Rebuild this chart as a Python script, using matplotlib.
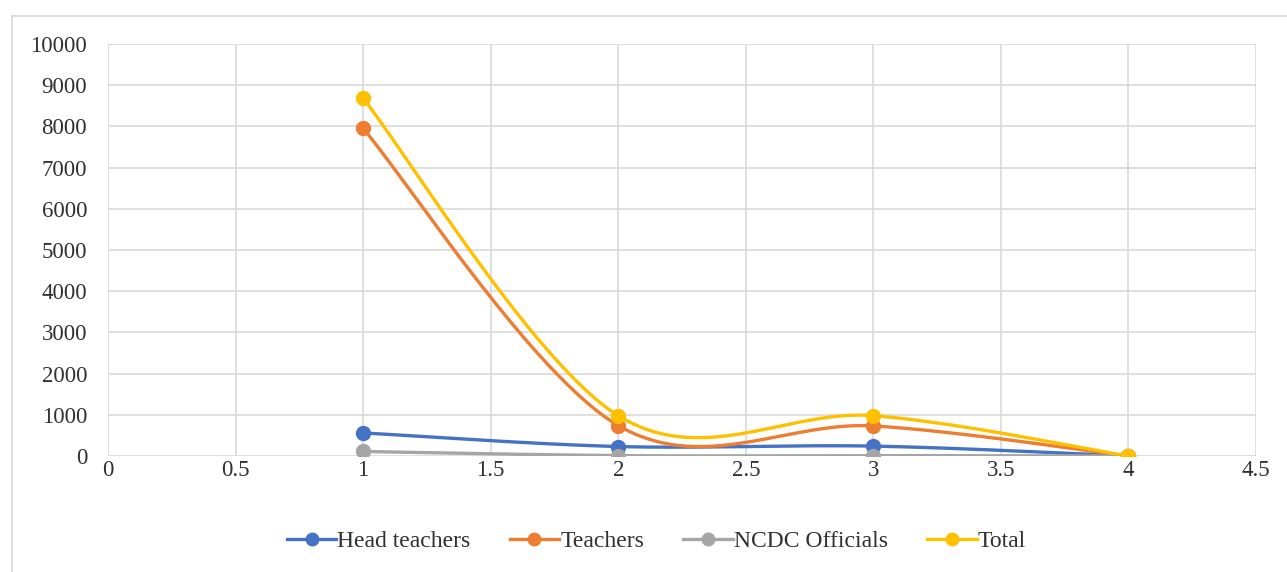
import numpy as np
import matplotlib.pyplot as plt
from matplotlib.lines import Line2D

# values
x_vals = [1, 2, 3, 4]
head_teachers = [560, 230, 240, 0]
teachers = [7950, 740, 730, 0]
ncdc_officials = [110, 10, 10, 0]
total = [8680, 980, 980, 0]

series_names = ['Head teachers', 'Teachers', 'NCDC Officials', 'Total']
series_colors = ['#4472C4', '#ED7D31', '#A5A5A5', '#FFC000']


def smooth(xs, ys, n=60):
    # Excel-like smoothed line: cubic bezier with catmull-rom control points
    pts = np.column_stack([xs, ys]).astype(float)
    padded = np.vstack([pts[0], pts, pts[-1]])
    out = []
    t = np.linspace(0, 1, n)[:, None]
    for i in range(len(pts) - 1):
        p0, p1, p2, p3 = padded[i], padded[i + 1], padded[i + 2], padded[i + 3]
        c1 = p1 + (p2 - p0) / 6
        c2 = p2 - (p3 - p1) / 6
        seg = ((1 - t) ** 3) * p1 + 3 * ((1 - t) ** 2) * t * c1 \
            + 3 * (1 - t) * t ** 2 * c2 + t ** 3 * p2
        out.append(seg if i == 0 else seg[1:])
    out = np.vstack(out)
    return out[:, 0], out[:, 1]


plt.rcParams['font.family'] = ['Liberation Serif', 'DejaVu Serif']

fig = plt.figure(figsize=(12.87, 5.72), dpi=100)
ax = fig.add_axes([108 / 1287, 1 - 456 / 572, (1256 - 108) / 1287, (456 - 44) / 572])

handles = []
for name, ys, col in zip(series_names, [head_teachers, teachers, ncdc_officials, total], series_colors):
    sx, sy = smooth(x_vals, ys)
    ax.plot(sx, sy, color=col, lw=2.4, solid_capstyle='round', zorder=3)
    ax.plot(x_vals, ys, 'o', color=col, ms=10, zorder=4)
    handles.append(Line2D([], [], color=col, lw=2.4, marker='o', ms=9, label=name))

ax.set_xlim(0, 4.5)
ax.set_ylim(0, 10000)
ax.set_xticks(np.arange(0, 4.51, 0.5))
ax.set_xticklabels(['0', '0.5', '1', '1.5', '2', '2.5', '3', '3.5', '4', '4.5'])
ax.set_yticks(np.arange(0, 10001, 1000))
ax.grid(True, color='#D9D9D9', lw=1.2)
ax.set_axisbelow(True)
for s in ax.spines.values():
    s.set_visible(False)
ax.tick_params(length=0, labelsize=16.5, colors='#303030')
ax.tick_params(axis='x', pad=3)
ax.tick_params(axis='y', pad=15)

fig.legend(handles=handles, loc='center', bbox_to_anchor=(0.51, 1 - 541 / 572),
           ncol=4, frameon=False, fontsize=17, handlelength=2.1, columnspacing=1.65,
           handletextpad=0.05, labelcolor='#303030')

# outer chart border (top and left visible in reference)
fig.add_artist(Line2D([12 / 1287, 1], [1 - 16 / 572, 1 - 16 / 572], color='#D9D9D9', lw=1.2,
                      transform=fig.transFigure))
fig.add_artist(Line2D([12 / 1287, 12 / 1287], [0, 1 - 16 / 572], color='#D9D9D9', lw=1.2,
                      transform=fig.transFigure))

fig.savefig('out.png', dpi=100)
